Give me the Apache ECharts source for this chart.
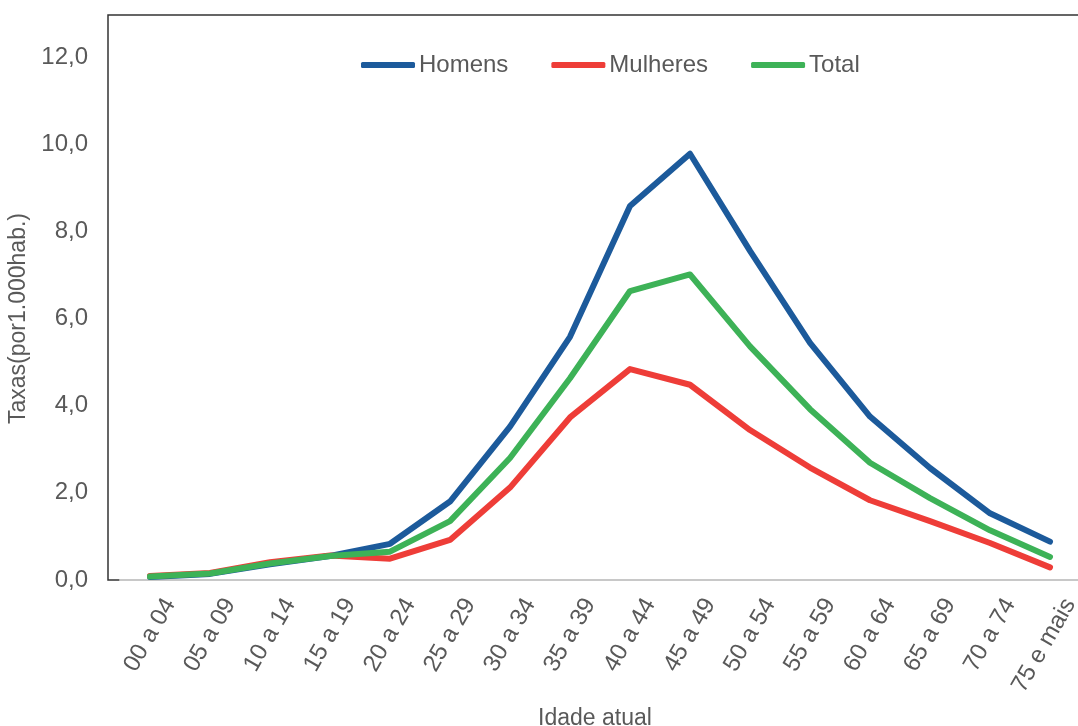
<!DOCTYPE html>
<html>
<head>
<meta charset="utf-8">
<script src="https://cdn.jsdelivr.net/npm/echarts@6/dist/echarts.min.js"></script>
<style>html,body{margin:0;padding:0;background:#fff}#c{width:1078px;height:726px}</style>
</head>
<body>
<div id="c"></div>
<script>
const categories = ['00 a 04','05 a 09','10 a 14','15 a 19','20 a 24','25 a 29','30 a 34','35 a 39','40 a 44','45 a 49','50 a 54','55 a 59','60 a 64','65 a 69','70 a 74','75 e mais'];
const homens   = [0.07, 0.14, 0.36, 0.55, 0.83, 1.80, 3.52, 5.58, 8.58, 9.78, 7.55, 5.44, 3.75, 2.57, 1.53, 0.88];
const mulheres = [0.09, 0.16, 0.41, 0.56, 0.49, 0.92, 2.12, 3.73, 4.84, 4.48, 3.44, 2.58, 1.83, 1.35, 0.85, 0.29];
const total    = [0.08, 0.15, 0.38, 0.55, 0.65, 1.35, 2.80, 4.63, 6.63, 7.01, 5.36, 3.92, 2.69, 1.88, 1.14, 0.53];
const yTicks = [0, 2, 4, 6, 8, 10, 12];

const txt = '#595959';
const font = 'Arial, "Liberation Sans", sans-serif';
const chart = echarts.init(document.getElementById('c'), null, {renderer: 'canvas'});
function ln(name, data, color, z) {
  return {
    name, type: 'line', data, symbol: 'none', z,
    lineStyle: {width: 6, color, cap: 'round', join: 'round'},
    itemStyle: {color}
  };
}
chart.setOption({
  animation: false,
  backgroundColor: '#fff',
  textStyle: {fontFamily: font},
  graphic: [{
    type: 'rect', z: 0, silent: true,
    shape: {x: 108, y: 15, width: 1000, height: 565},
    style: {fill: null, stroke: '#333', lineWidth: 1.5}
  }],
  legend: {
    left: 361, top: 53, padding: 0,
    icon: 'roundRect', itemWidth: 54, itemHeight: 6, itemGap: 43,
    textStyle: {color: txt, fontSize: 24, fontFamily: font, padding: [0,0,0,-1]},
    data: ['Homens', 'Mulheres', 'Total']
  },
  grid: {left: 120, right: -2, top: 57, bottom: 146, containLabel: false, outerBoundsMode: 'none'},
  xAxis: {
    type: 'category', data: categories, boundaryGap: true,
    name: 'Idade atual', nameLocation: 'middle', nameGap: 127,
    nameTextStyle: {color: txt, fontSize: 23, fontFamily: font, verticalAlign: 'top', padding: [0, 10, 0, 0]},
    axisLine: {show: true, lineStyle: {color: '#c8c8c8', width: 2}},
    axisTick: {show: false},
    axisLabel: {color: txt, fontSize: 24, fontFamily: font, rotate: 60, margin: 55, interval: 0,
      padding: [0, -40, 0, 0], hideOverlap: false}
  },
  yAxis: {
    type: 'value', min: 0, max: 12, interval: 2,
    name: 'Taxas(por1.000hab.)', nameLocation: 'middle', nameGap: 86, nameRotate: 90,
    nameTextStyle: {color: txt, fontSize: 23, fontFamily: font},
    axisLine: {show: false}, axisTick: {show: false}, splitLine: {show: false},
    axisLabel: {color: txt, fontSize: 24, fontFamily: font, margin: 32,
      formatter: v => yTicks.includes(v) ? v.toFixed(1).replace('.', ',') : ''}
  },
  series: [
    ln('Homens', homens, '#1C5A9B', 2),
    ln('Mulheres', mulheres, '#EE3D38', 3),
    ln('Total', total, '#3DB257', 4)
  ]
});
</script>
</body>
</html>
